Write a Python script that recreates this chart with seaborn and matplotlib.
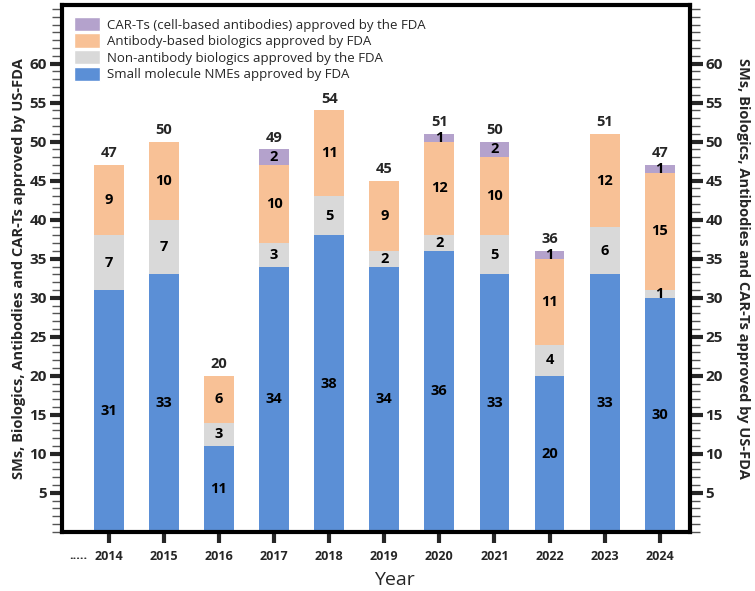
import numpy as np
import pandas as pd
import seaborn as sns
import matplotlib.pyplot as plt
from matplotlib.patches import Patch
from matplotlib.ticker import MultipleLocator

years = ["2014", "2015", "2016", "2017", "2018", "2019", "2020", "2021", "2022", "2023", "2024"]
small_mol = [31, 33, 11, 34, 38, 34, 36, 33, 20, 33, 30]
non_ab = [7, 7, 3, 3, 5, 2, 2, 5, 4, 6, 1]
antibody = [9, 10, 6, 10, 11, 9, 12, 10, 11, 12, 15]
car_t = [0, 0, 0, 2, 0, 0, 1, 2, 1, 0, 1]

names = ["Small molecule NMEs approved by FDA",
         "Non-antibody biologics approved by the FDA",
         "Antibody-based biologics approved by FDA",
         "CAR-Ts (cell-based antibodies) approved by the FDA"]
colors = ["#5b8fd6", "#d9d9d9", "#f8c196", "#b4a2cc"]


def main():
    sns.set_style("white")
    plt.rcParams['font.family'] = ['Open Sans', 'DejaVu Sans']

    layers = np.array([small_mol, non_ab, antibody, car_t])
    cum = layers.cumsum(axis=0)

    fig = plt.figure(figsize=(7.55, 5.91), dpi=100)
    ax = fig.add_axes([0.082, 0.1, 0.832, 0.8915])

    # draw cumulative totals from the top layer down so the stacks overlap
    for i in range(3, -1, -1):
        df = pd.DataFrame({"Year": years, "Count": cum[i]})
        sns.barplot(data=df, x="Year", y="Count", color=colors[i],
                    saturation=1, width=0.54, ax=ax, linewidth=0)

    # segment labels
    for i in range(4):
        for j, year in enumerate(years):
            v = layers[i][j]
            if v == 0:
                continue
            mid = cum[i][j] - v / 2
            ax.text(j, mid, str(v), ha="center", va="center",
                    fontsize=10.5, fontweight="bold", color="black")
    for j, year in enumerate(years):
        ax.text(j, cum[3][j] + 0.6, str(cum[3][j]), ha="center", va="bottom",
                fontsize=10.5, fontweight="bold")

    ax.set_xlim(-0.85, 10.55)
    ax.set_ylim(0, 67.5)
    ax.yaxis.set_major_locator(MultipleLocator(5))
    ax.yaxis.set_minor_locator(MultipleLocator(1))
    ax.set_yticks(range(5, 61, 5))
    ax.tick_params(axis="y", which="major", direction="out", length=9, width=3,
                   left=True, right=True, labelleft=True, labelright=True,
                   labelsize=11, pad=2)
    ax.tick_params(axis="y", which="minor", direction="out", length=7, width=1,
                   left=True, right=True, color="#555555")
    ax.tick_params(axis="x", direction="out", length=8, width=3, bottom=True,
                   labelsize=9, pad=5)
    for lab in ax.get_yticklabels() + ax.get_xticklabels():
        lab.set_fontweight("bold")
    for spine in ax.spines.values():
        spine.set_visible(True)
        spine.set_linewidth(3)
        spine.set_color("black")

    ylabel = "SMs, Biologics, Antibodies and CAR-Ts approved by US-FDA"
    ax.set_ylabel(ylabel, fontsize=10.5, fontweight="bold", labelpad=2)
    ax.set_xlabel("Year", fontsize=14, labelpad=4)
    ax.xaxis.set_label_coords(0.53, -0.075)
    ax.text(1.085, 0.5, ylabel, transform=ax.transAxes, rotation=270,
            ha="center", va="center", fontsize=10.5, fontweight="bold")
    ax.text(-0.55, -0.045, ".....", transform=ax.get_xaxis_transform(),
            ha="center", va="center", fontsize=9, fontweight="bold")

    handles = [Patch(facecolor=colors[i], label=names[i]) for i in range(3, -1, -1)]
    ax.legend(handles=handles, loc="upper left", bbox_to_anchor=(0.0, 1.0),
              frameon=False, fontsize=9.5, handlelength=2.0, handleheight=1.3,
              labelspacing=0.15, handletextpad=0.5, borderaxespad=0.5)

    fig.savefig("out.png", dpi=100)


if __name__ == '__main__':
    main()
